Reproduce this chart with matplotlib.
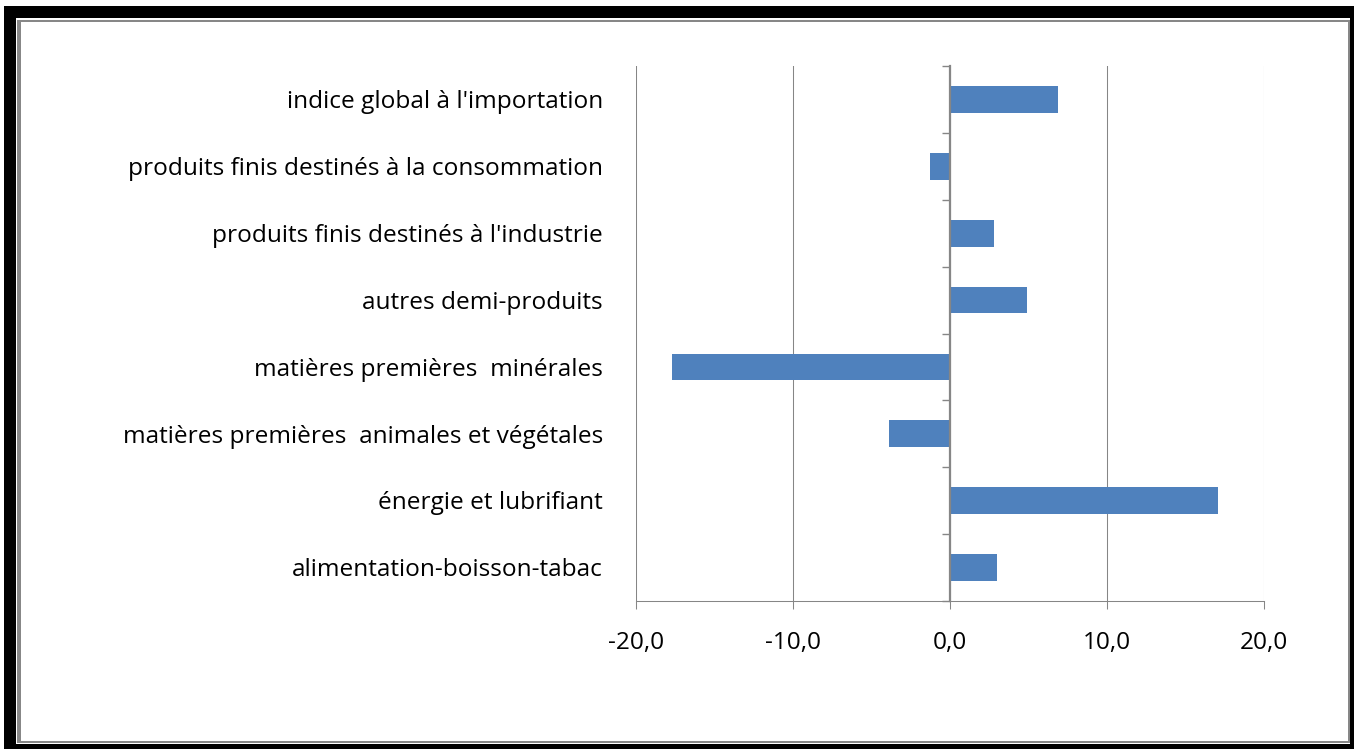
import matplotlib
matplotlib.use("Agg")
import matplotlib.pyplot as plt
from matplotlib.patches import Rectangle
from matplotlib.ticker import FuncFormatter, FixedLocator
import matplotlib.transforms as mtransforms

categories = [
    "alimentation-boisson-tabac",
    "énergie et lubrifiant",
    "matières premières  animales et végétales ",
    "matières premières  minérales ",
    "autres demi-produits ",
    "produits finis destinés à l'industrie",
    "produits finis destinés à la consommation ",
    "indice global à l'importation ",
]
values = [3.0, 17.1, -3.9, -17.7, 4.9, 2.8, -1.3, 6.9]
x_ticks = [-20, -10, 0, 10, 20]

FONT = ["Open Sans", "DejaVu Sans"]
W, H = 1354, 749
fig = plt.figure(figsize=(W / 100, H / 100), dpi=100)
fig.patch.set_facecolor("white")

def px_rect(x0, y0, x1, y1, color):
    fig.patches.append(Rectangle((x0 / W, 1 - y1 / H), (x1 - x0) / W, (y1 - y0) / H,
                                 transform=fig.transFigure, facecolor=color,
                                 edgecolor="none", zorder=-10))

# frame with shadow
px_rect(4, 6, 1354, 749, "black")
px_rect(16, 18, 1350, 744, "white")
px_rect(17, 20, 1350, 743, "#878787")
px_rect(21, 22, 1348, 741, "white")

ax = fig.add_axes([636 / W, 1 - 601 / H, (1264 - 636) / W, (601 - 66) / H])
ax.set_facecolor("none")

gray = "#868686"
ypos = list(range(len(categories)))
ax.barh(ypos, values, height=0.4, color="#4F81BD", zorder=2)

ax.set_xlim(-20, 20)
ax.set_ylim(-0.5, len(categories) - 0.5)
ax.xaxis.set_major_locator(FixedLocator(x_ticks))
ax.xaxis.set_major_formatter(FuncFormatter(lambda v, p: f"{v:.1f}".replace(".", ",")))
ax.grid(axis="x", color=gray, linewidth=0.75, zorder=0)
ax.set_axisbelow(True)

for s in ["top", "right"]:
    ax.spines[s].set_visible(False)
ax.spines["bottom"].set_color(gray)
ax.spines["bottom"].set_linewidth(0.75)
ax.spines["left"].set_position(("data", 0))
ax.spines["left"].set_color(gray)
ax.spines["left"].set_linewidth(1.6)
ax.spines["left"].set_zorder(3)

ax.yaxis.set_major_locator(FixedLocator([i - 0.5 for i in range(len(categories) + 1)]))
ax.set_yticklabels([])
ax.tick_params(axis="y", direction="out", length=5.5, width=1.0, color=gray)

# measure font to match target label width
renderer = fig.canvas.get_renderer()
probe = fig.text(0, 0, "produits finis destinés à la consommation", fontsize=16, family=FONT)
wpx = probe.get_window_extent(renderer).width
probe.remove()
fs = 16 * 476 / wpx

ax.tick_params(axis="x", direction="out", length=5.8, width=0.75, color=gray,
               pad=16, labelsize=fs, labelcolor="black")
for lab in ax.get_xticklabels():
    lab.set_fontfamily(FONT)

trans = mtransforms.blended_transform_factory(ax.transAxes, ax.transData)
trans = trans + mtransforms.ScaledTranslation(0, -2 / 72, fig.dpi_scale_trans)
xlab = -(636 - 603) / (1264 - 636)
for i, name in enumerate(categories):
    ax.text(xlab, i, name.rstrip(), transform=trans, ha="right", va="center",
            fontsize=fs, family=FONT, color="black")

fig.savefig("out.png", dpi=100)
